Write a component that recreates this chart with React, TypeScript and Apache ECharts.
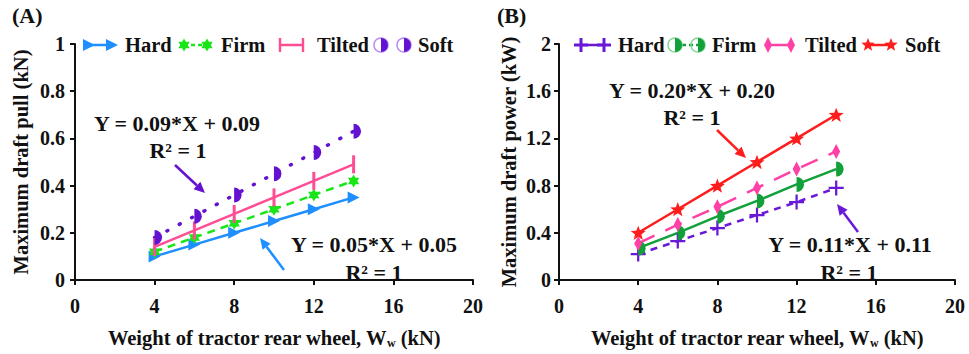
import React, { useEffect, useRef } from "react";
import * as echarts from "echarts";

// ---- data ----
const weights = [4, 6, 8, 10, 12, 14];
const pullHard = [0.1, 0.15, 0.2, 0.25, 0.3, 0.35];
const pullFirm = [0.12, 0.18, 0.24, 0.3, 0.36, 0.42];
const pullTilted = [0.14, 0.21, 0.28, 0.35, 0.42, 0.49];
const pullSoft = [0.18, 0.27, 0.36, 0.45, 0.54, 0.63];
const powerHard = [0.22, 0.33, 0.44, 0.55, 0.66, 0.78];
const powerFirm = [0.27, 0.4, 0.54, 0.67, 0.81, 0.94];
const powerTilted = [0.31, 0.47, 0.62, 0.78, 0.94, 1.09];
const powerSoft = [0.4, 0.6, 0.8, 1.0, 1.2, 1.4];
const surfaceNames = ["Hard", "Firm", "Tilted", "Soft"];
const panelTitles = ["(A)", "(B)"];
const yNames = ["Maximum draft pull (kN)", "Maximum draft power (kW)"];
const xName = "Weight of tractor rear wheel, W{sub|w} (kN)";
const eqA = ["Y = 0.09*X + 0.09", "R\u00b2 = 1", "Y = 0.05*X + 0.05", "R\u00b2 = 1"];
const eqB = ["Y = 0.20*X + 0.20", "R\u00b2 = 1", "Y = 0.11*X + 0.11", "R\u00b2 = 1"];

const FONT = '"Liberation Serif", "Times New Roman", serif';

const C = {
  aHard: "#1f8fff",
  aFirm: "#19e619",
  aTilted: "#ff4d94",
  aSoft: "#6412d2",
  aSoftLight: "#b58cf2",
  bHard: "#6a18d8",
  bFirm: "#12a03a",
  bFirmLight: "#86d69a",
  bTilted: "#ff40a6",
  bSoft: "#ff1c1c",
};

function starPath(n: number, ro: number, ri: number) {
  let d = "";
  for (let i = 0; i < n * 2; i++) {
    const r = i % 2 === 0 ? ro : ri;
    const a = -Math.PI / 2 + (i * Math.PI) / n;
    d += (i === 0 ? "M" : "L") + (r * Math.cos(a)).toFixed(2) + "," + (r * Math.sin(a)).toFixed(2);
  }
  return d + "Z";
}
function starPoints(cx: number, cy: number, n: number, ro: number, ri: number) {
  const pts: number[][] = [];
  for (let i = 0; i < n * 2; i++) {
    const r = i % 2 === 0 ? ro : ri;
    const a = -Math.PI / 2 + (i * Math.PI) / n;
    pts.push([cx + r * Math.cos(a), cy + r * Math.sin(a)]);
  }
  return pts;
}

const SYM_TRI = "path://M0,0L10,5L0,10Z";
const SYM_HEX = "path://M0,-10L8.66,5L-8.66,5Z M0,10L-8.66,-5L8.66,-5Z";
const SYM_BAR = "path://M-1.2,-8h2.4v16h-2.4z";
const SYM_HALF = "path://M0,-10A10,10 0 0 1 0,10Z";
const SYM_PLUS = "path://M-1.5,-10h3v8.5h8.5v3h-8.5v8.5h-3v-8.5h-8.5v-3h8.5z";
const SYM_STAR = "path://" + starPath(5, 10, 4.2);

function arrow(x1: number, y1: number, x2: number, y2: number, color: string) {
  const a = Math.atan2(y2 - y1, x2 - x1);
  const L = 11, W = 5;
  const bx = x2 - L * Math.cos(a), by = y2 - L * Math.sin(a);
  return [
    { type: "line", shape: { x1, y1, x2: bx, y2: by }, style: { stroke: color, lineWidth: 2.5 } },
    {
      type: "polygon",
      shape: { points: [[x2, y2], [bx + W * Math.sin(a), by - W * Math.cos(a)], [bx - W * Math.sin(a), by + W * Math.cos(a)]] },
      style: { fill: color },
    },
  ];
}

function txt(x: number, y: number, text: string, size: number, align = "left") {
  return {
    type: "text",
    x,
    y,
    style: { text, font: `bold ${size}px ${FONT}`, fill: "#111", align, verticalAlign: "middle" },
  };
}

function halfMarker(cx: number, cy: number, r: number, dark: string, light: string) {
  return [
    { type: "circle", shape: { cx, cy, r }, style: { fill: "none", stroke: light, lineWidth: 1.5 } },
    { type: "sector", shape: { cx, cy, r, r0: 0, startAngle: -Math.PI / 2, endAngle: Math.PI / 2, clockwise: true }, style: { fill: dark } },
  ];
}

function legendItem(x: number, y: number, kind: string, color: string, lineType: any, name: string, light?: string) {
  const els: any[] = [];
  const x1 = x + 4, x2 = x + 27;
  if (lineType) els.push({ type: "line", shape: { x1, y1: y, x2, y2: y }, style: { stroke: color, lineWidth: 2.5, lineDash: lineType === "solid" ? null : lineType } });
  for (const cx of [x1, x2]) {
    if (kind === "tri") els.push({ type: "polygon", shape: { points: [[cx - 5, y - 6], [cx + 7, y], [cx - 5, y + 6]] }, style: { fill: color } });
    if (kind === "hex") els.push({ type: "polygon", shape: { points: starPoints(cx, y, 6, 6.5, 3.8) }, style: { fill: color } });
    if (kind === "bar") els.push({ type: "rect", shape: { x: cx - 1.2, y: y - 7, width: 2.4, height: 14 }, style: { fill: color } });
    if (kind === "half") els.push(...halfMarker(cx, y, 7, color, light || color));
    if (kind === "plus") {
      els.push({ type: "rect", shape: { x: cx - 1.5, y: y - 7, width: 3, height: 14 }, style: { fill: color } });
      els.push({ type: "rect", shape: { x: cx - 7, y: y - 1.5, width: 14, height: 3 }, style: { fill: color } });
    }
    if (kind === "diamond") els.push({ type: "polygon", shape: { points: [[cx, y - 8], [cx + 4, y], [cx, y + 8], [cx - 4, y]] }, style: { fill: color } });
    if (kind === "star") els.push({ type: "polygon", shape: { points: starPoints(cx, y, 5, 7, 3) }, style: { fill: color } });
  }
  els.push(txt(x + 41, y, name, 20.5));
  return els;
}

export default function App() {
  const ref = useRef<HTMLDivElement>(null);
  useEffect(() => {
    if (!ref.current) return;
    const chart = echarts.init(ref.current, null, { renderer: "svg" });
    const gridTop = 44, gridH = 244;
    const grids = [
      { left: 75, top: gridTop, width: 398, height: gridH },
      { left: 559, top: gridTop, width: 396, height: gridH },
    ];
    const axisCommon = {
      axisLine: { show: true, onZero: false, lineStyle: { color: "#111", width: 2 } },
      axisTick: { show: true, inside: false, length: 5, lineStyle: { color: "#111", width: 2 } },
      splitLine: { show: false },
    };
    const xAxes = [0, 1].map((i) => ({
      ...axisCommon,
      gridIndex: i,
      type: "value",
      min: 0,
      max: 20,
      interval: 4,
      axisLabel: { margin: 16, fontFamily: FONT, fontWeight: "bold", fontSize: 20, color: "#111" },
      name: xName,
      nameLocation: "middle",
      nameGap: 47,
      nameTextStyle: {
        fontFamily: FONT,
        fontWeight: "bold",
        fontSize: 20.5,
        color: "#111",
        rich: { sub: { fontFamily: FONT, fontWeight: "bold", fontSize: 12, color: "#111", verticalAlign: "bottom", padding: [10, 0, 0, 0] } },
      },
    }));
    const yAxes = [0, 1].map((i) => ({
      ...axisCommon,
      gridIndex: i,
      type: "value",
      min: 0,
      max: i === 0 ? 1 : 2,
      interval: i === 0 ? 0.2 : 0.4,
      axisLabel: { margin: i === 0 ? 10 : 8, fontFamily: FONT, fontWeight: "bold", fontSize: 20, color: "#111" },
      name: yNames[i],
      nameLocation: "middle",
      nameGap: i === 0 ? 44 : 40,
      nameTextStyle: { fontFamily: FONT, fontWeight: "bold", fontSize: 20.5, color: "#111" },
    }));
    const pts = (vals: number[]) => weights.map((w, k) => [w, vals[k]]);
    const line = (name: string, g: number, vals: number[], color: string, type: any, symbol: string, size: any, extra: any = {}) => ({
      name,
      type: "line",
      xAxisIndex: g,
      yAxisIndex: g,
      data: pts(vals),
      symbol,
      symbolSize: size,
      showSymbol: true,
      lineStyle: { color, width: 2.5, type },
      itemStyle: { color, borderWidth: 0 },
      z: 3,
      ...extra,
    });
    const ring = (g: number, vals: number[], color: string) => ({
      type: "scatter",
      xAxisIndex: g,
      yAxisIndex: g,
      data: pts(vals),
      symbol: "emptyCircle",
      symbolSize: 14,
      itemStyle: { color: "#fff", borderColor: color, borderWidth: 1.5, opacity: 1 },
      z: 2,
    });
    const series = [
      line("Hard", 0, pullHard, C.aHard, "solid", SYM_TRI, 12, { symbolKeepAspect: true }),
      line("Firm", 0, pullFirm, C.aFirm, [8, 6], SYM_HEX, 13, { symbolKeepAspect: true }),
      line("Tilted", 0, pullTilted, C.aTilted, "solid", SYM_BAR, [3, 18], {}),
      ring(0, pullSoft, C.aSoftLight),
      line("Soft", 0, pullSoft, C.aSoft, [1, 13], SYM_HALF, 15, { symbolKeepAspect: true, symbolOffset: [3.7, 0], lineStyle: { color: C.aSoft, width: 3.5, type: [1, 13], cap: "round" } }),
      line("Hard", 1, powerHard, C.bHard, [7, 6], SYM_PLUS, 15, {}),
      ring(1, powerFirm, C.bFirmLight),
      line("Firm", 1, powerFirm, C.bFirm, "solid", SYM_HALF, 15, { symbolKeepAspect: true, symbolOffset: [3.7, 0] }),
      line("Tilted", 1, powerTilted, C.bTilted, [18, 12], "diamond", [8, 15], {}),
      line("Soft", 1, powerSoft, C.bSoft, "solid", SYM_STAR, 15, { symbolKeepAspect: true }),
    ];

    const graphics: any[] = [
      txt(12, 15, panelTitles[0], 22),
      txt(497, 15, panelTitles[1], 22),
      ...legendItem(84, 45, "tri", C.aHard, "solid", surfaceNames[0]),
      ...legendItem(180, 45, "hex", C.aFirm, [4, 3], surfaceNames[1]),
      ...legendItem(276, 45, "bar", C.aTilted, "solid", surfaceNames[2]),
      ...legendItem(377, 45, "half", C.aSoft, null, surfaceNames[3], C.aSoftLight),
      ...legendItem(577, 45, "plus", C.bHard, "solid", surfaceNames[0]),
      ...legendItem(671, 45, "half", C.bFirm, [4, 3], surfaceNames[1], C.bFirmLight),
      ...legendItem(764, 45, "diamond", C.bTilted, "solid", surfaceNames[2]),
      ...legendItem(864, 45, "star", C.bSoft, "solid", surfaceNames[3]),
      txt(177, 123, eqA[0], 22, "center"),
      txt(178, 150, eqA[1], 22, "center"),
      txt(374, 244, eqA[2], 22, "center"),
      txt(374, 272, eqA[3], 22, "center"),
      txt(692, 90, eqB[0], 22, "center"),
      txt(692, 117, eqB[1], 22, "center"),
      txt(850, 244, eqB[2], 22, "center"),
      txt(849, 272, eqB[3], 22, "center"),
      ...arrow(175, 165, 205, 193, C.aSoft),
      ...arrow(284, 270, 260, 238, C.aHard),
      ...arrow(717, 130, 746, 158, C.bSoft),
      ...arrow(858, 232, 837, 204, C.bHard),
    ];

    chart.setOption({
      animation: false,
      backgroundColor: "#fff",
      grid: grids,
      xAxis: xAxes,
      yAxis: yAxes,
      series,
      graphic: { elements: graphics },
    });
    return () => chart.dispose();
  }, []);
  return <div ref={ref} style={{ position: "fixed", left: 0, top: 0, width: 969, height: 354, background: "#fff" }} />;
}
